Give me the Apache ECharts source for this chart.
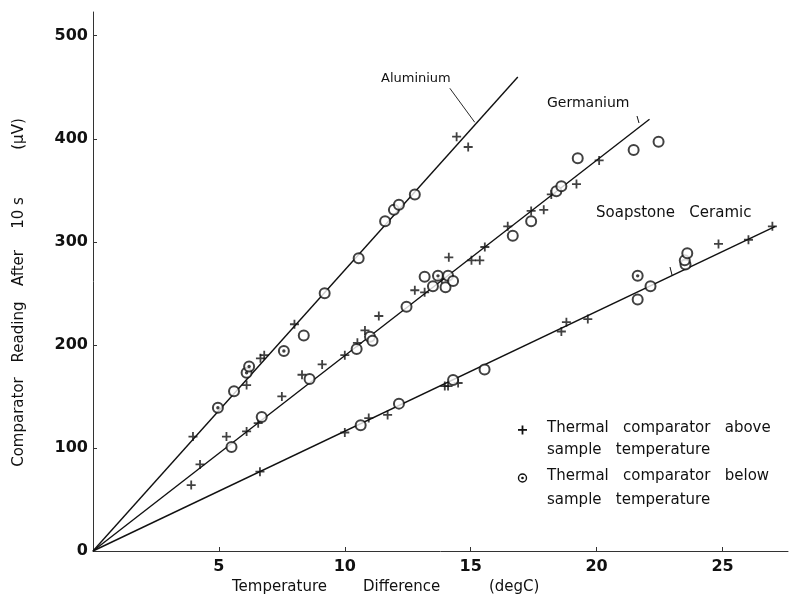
<!DOCTYPE html>
<html>
<head>
<meta charset="utf-8">
<script src="https://cdn.jsdelivr.net/npm/echarts@6/dist/echarts.min.js"></script>
<style>html,body{margin:0;padding:0;background:#fff;}#c{width:791px;height:607px;}</style>
</head>
<body>
<div id="c"></div>
<script>
// ---- data (temperature difference degC, reading µV) ----
const xTicks = [5, 10, 15, 20, 25];
const yTicks = [0, 100, 200, 300, 400, 500];

const alAbove = [[3.97,111],[6.1,161],[6.65,187],[6.8,190],[8.0,220],[14.44,402],[14.9,392]];
const alBelow = [[4.96,139],[5.6,155],[6.1,173],[6.2,179],[7.58,194],[8.37,209],[9.2,250],[10.55,284],[11.6,320],[11.95,331],[12.15,336],[12.78,346]];
const geAbove = [[3.9,64],[4.25,84],[5.3,111],[6.1,116],[6.56,124],[7.5,150],[8.3,171],[9.1,181],[10.0,190],[10.5,202],[10.8,214],[11.35,228],
                 [12.78,253],[13.17,251],[13.85,264],[14.13,285],[15.03,282],[15.36,282],[15.56,295],[16.47,315],[17.4,330],[17.9,331],[18.2,346],[19.2,356],[20.1,379]];
const geBelow = [[5.5,101],[6.7,130],[8.6,167],[10.47,196],[11.0,208],[11.1,204],[12.45,237],[13.5,257],[13.17,266],[13.7,267],[14.0,256],[14.1,267],[14.3,262],
                 [16.67,306],[17.4,320],[18.4,349],[18.6,354],[19.25,381],[21.47,389],[22.46,397]];
const soAbove = [[6.63,77],[10.0,115],[10.95,129],[11.7,132],[13.97,160],[14.1,160],[14.5,163],[18.6,213],[18.8,222],[19.65,225],[24.84,298],[26.03,302],[26.98,315]];
const soBelow = [[10.63,122],[12.15,143],[14.3,166],[15.55,176],[21.63,267],[21.63,244],[22.14,257],[23.53,278],[23.5,282],[23.6,289]];
// circles drawn with a centre dot
const dottedBelow = [[4.96,139],[6.1,173],[6.2,179],[7.58,194],[13.7,267],[21.63,267]];

const alFit = [[0,0],[16.87,460]];
const geFit = [[0,0],[22.1,419]];
const soFit = [[0,0],[27.1,315]];
const labelLeader = [[14.17,449],[15.16,416]];

const INK = '#111';
const PLUS = 'path://M4,0H6V4H10V6H6V10H4V6H0V4H4Z';

function lineSeries(d){
  return {type:'line', data:d, symbol:'none', silent:true, lineStyle:{color:INK,width:1.4}, z:2};
}
function plusSeries(d){
  return {type:'scatter', name:'above', data:d, symbol:PLUS, symbolSize:9, itemStyle:{color:INK}, z:4};
}
function circSeries(d){
  return {type:'scatter', name:'below', data:d, symbol:'emptyCircle', symbolSize:10,
    itemStyle:{color:INK, borderColor:INK, borderWidth:1.4}, z:5};
}

const chart = echarts.init(document.getElementById('c'), null, {renderer:'canvas'});
const tickFont = {color:INK, fontFamily:'DejaVu Sans', fontSize:16, fontWeight:'bold'};
const F = '15px "DejaVu Sans"';
function yWord(t, cy){
  return {type:'text', x:19, y:cy, rotation:Math.PI/2,
    style:{text:t, font:F, fill:INK, align:'center', verticalAlign:'middle'}};
}
chart.setOption({
  animation:false,
  backgroundColor:'#fff',
  grid:{left:93, right:3, top:12, bottom:56},
  xAxis:{type:'value', min:0, max:27.6, interval:5,
    axisLine:{show:true, onZero:false, lineStyle:{color:'#333', width:1}},
    axisTick:{show:true, inside:true, length:4, lineStyle:{color:'#333'}},
    splitLine:{show:false},
    axisLabel:Object.assign({margin:8, showMinLabel:false, showMaxLabel:false,
      formatter:v => xTicks.indexOf(v) >= 0 ? String(v) : ''}, tickFont)},
  yAxis:{type:'value', min:0, max:523, interval:100,
    axisLine:{show:true, onZero:false, lineStyle:{color:'#333', width:1}},
    axisTick:{show:true, inside:true, length:4, lineStyle:{color:'#333'}},
    splitLine:{show:false},
    axisLabel:Object.assign({margin:5, showMaxLabel:false,
      formatter:v => yTicks.indexOf(v) >= 0 ? String(v) : ''}, tickFont)},
  series:[
    lineSeries(alFit), lineSeries(geFit), lineSeries(soFit),
    {type:'line', data:labelLeader, symbol:'none', silent:true, lineStyle:{color:INK,width:0.9}},
    plusSeries(alAbove), plusSeries(geAbove), plusSeries(soAbove),
    circSeries(alBelow), circSeries(geBelow), circSeries(soBelow),
    {type:'scatter', data:dottedBelow, symbol:'circle', symbolSize:3.4, itemStyle:{color:INK}, z:10, zlevel:1}
  ],
  graphic:[
    {type:'text', left:381, top:72, style:{text:'Aluminium', font:'13px "DejaVu Sans"', fill:INK}},
    {type:'text', left:547, top:96, style:{text:'Germanium', font:'14px "DejaVu Sans"', fill:INK}},
    {type:'text', left:596, top:206, style:{text:'Soapstone   Ceramic', font:F, fill:INK}},
    {type:'line', shape:{x1:637,y1:116,x2:639,y2:123}, style:{stroke:INK, lineWidth:1}},
    {type:'line', shape:{x1:670,y1:267,x2:672,y2:275}, style:{stroke:INK, lineWidth:1}},
    // legend
    {type:'rect', shape:{x:518, y:429, width:9, height:1.8}, style:{fill:INK}},
    {type:'rect', shape:{x:521.6, y:425.5, width:1.8, height:9}, style:{fill:INK}},
    {type:'circle', shape:{cx:522.5, cy:478, r:4}, style:{fill:'#fff', stroke:INK, lineWidth:1.4}},
    {type:'circle', shape:{cx:522.5, cy:478, r:1.3}, style:{fill:INK}},
    {type:'text', left:547, top:421, style:{text:'Thermal   comparator   above', font:F, fill:INK}},
    {type:'text', left:547, top:443, style:{text:'sample   temperature', font:F, fill:INK}},
    {type:'text', left:547, top:469, style:{text:'Thermal   comparator   below', font:F, fill:INK}},
    {type:'text', left:547, top:493, style:{text:'sample   temperature', font:F, fill:INK}},
    // axis titles
    {type:'text', left:232, top:580, style:{text:'Temperature', font:F, fill:INK}},
    {type:'text', left:363, top:580, style:{text:'Difference', font:F, fill:INK}},
    {type:'text', left:489, top:580, style:{text:'(degC)', font:F, fill:INK}},
    yWord('Comparator', 422), yWord('Reading', 332), yWord('After', 268), yWord('10 s', 213), yWord('(µV)', 134)
  ]
});
</script>
</body>
</html>
